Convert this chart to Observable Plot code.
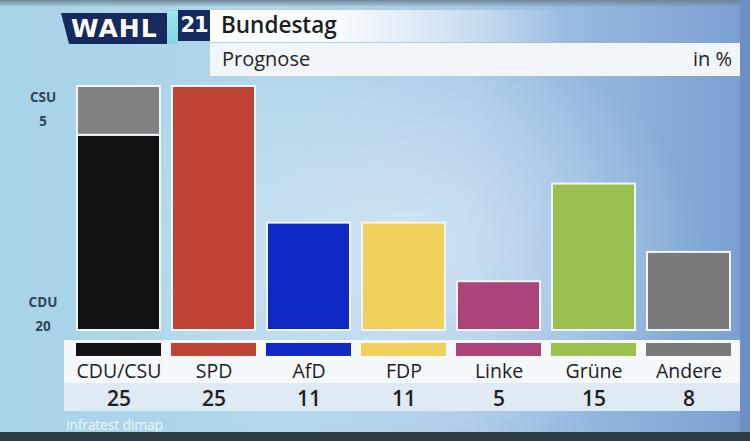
<!DOCTYPE html>
<html>
<head>
<meta charset="utf-8">
<script src="https://cdn.jsdelivr.net/npm/d3@7"></script>
<script src="https://cdn.jsdelivr.net/npm/@observablehq/plot@0.6"></script>
<style>
  html, body { margin: 0; padding: 0; }
  body { width: 750px; height: 441px; overflow: hidden; font-family: "Open Sans", "Noto Sans", sans-serif; }
  #stage {
    position: relative; width: 750px; height: 441px; overflow: hidden;
    background:
      radial-gradient(ellipse 300px 220px at 400px 250px, rgba(222,236,247,0.75), rgba(222,236,247,0) 100%),
      linear-gradient(to right, #a8d4e8 0%, #b0d6ea 35%, #a9c9e8 62%, #88add9 88%, #7aa0d2 100%);
  }
  .abs { position: absolute; }
  #topband { left: 0; top: 0; width: 750px; height: 7px; background: linear-gradient(to bottom, #6f8596, rgba(140,170,195,0)); }
  #rightband { left: 740px; top: 0; width: 10px; height: 441px; background: #6c90c6; }
  #bottomband { left: 0; top: 432px; width: 750px; height: 9px; background: #2d3b43; }
  #wahl { left: 61px; top: 13px; width: 106px; height: 31px; background: #172a5e;
          clip-path: polygon(0 0, 100% 0, 100% 100%, 8px 100%);
          color: #fff; font-family: "DejaVu Sans", sans-serif; font-weight: bold; font-size: 25px;
          line-height: 31px; letter-spacing: 1px; padding-left: 10px; box-sizing: border-box; }
  #cyan { left: 167px; top: 11px; width: 11px; height: 33px; background: linear-gradient(to bottom, #9ae8ea, #7fd8e0); }
  #num { left: 178px; top: 10px; width: 32px; height: 31px; background: #172a5e; color: #fff;
         font-family: "DejaVu Sans", sans-serif; font-weight: bold; font-size: 21px; line-height: 31px; text-align: center; letter-spacing: -1px; }
  #title { left: 210px; top: 10px; width: 360px; height: 32px;
           background: linear-gradient(to right, #ffffff 0%, rgba(255,255,255,0.92) 35%, rgba(255,255,255,0) 100%);
           font-size: 22.5px; font-weight: 600; color: #1e1e1e; line-height: 30px; padding-left: 11px; box-sizing: border-box; }
  #sub { left: 210px; top: 43px; width: 530px; height: 33px; background: #f1f6fb;
         font-size: 20px; color: #222; line-height: 32px; padding: 0 8px 0 12px; box-sizing: border-box;
         display: flex; justify-content: space-between; }
  #panel { left: 64px; top: 340px; width: 676px; height: 43px; background: #f6f9fc; }
  #panel2 { left: 64px; top: 383px; width: 676px; height: 28px; background: #dfeaf4; }
  #caption { left: 66px; top: 415px; font-size: 14px; color: rgba(255,255,255,0.8); letter-spacing: -0.2px; }
  #chart { left: 0; top: 0; }
</style>
</head>
<body>
<div id="stage">
  <div class="abs" id="topband"></div>
  <div class="abs" id="rightband"></div>
  <div class="abs" id="panel"></div>
  <div class="abs" id="panel2"></div>
  <div class="abs" id="wahl">WAHL</div>
  <div class="abs" id="cyan"></div>
  <div class="abs" id="num">21</div>
  <div class="abs" id="title">Bundestag</div>
  <div class="abs" id="sub"><span>Prognose</span><span>in %</span></div>
  <div class="abs" id="chart"></div>
  <div class="abs" id="caption">infratest dimap</div>
  <div class="abs" id="bottomband"></div>
</div>
<script>
// ---- data ----
const parties = ["CDU/CSU", "SPD", "AfD", "FDP", "Linke", "Grüne", "Andere"];
const values = [25, 25, 11, 11, 5, 15, 8];
const partyColors = ["#111111", "#bf4433", "#1029c4", "#f1d15e", "#ad4479", "#9bc04f", "#7a7a7a"];

const unionParts = ["CDU", "CSU"];
const unionValues = [20, 5];
const unionColors = ["#111111", "#828282"];

// ---- tables built from the arrays ----
const partyRows = parties.map((p, i) => ({party: p, value: values[i], color: partyColors[i]}));
const segments = [];
parties.forEach((p, i) => {
  if (p === "CDU/CSU") {
    unionParts.forEach((u, j) => segments.push({party: p, part: u, value: unionValues[j], color: unionColors[j]}));
  } else {
    segments.push({party: p, part: p, value: values[i], color: partyColors[i]});
  }
});
const unionTotal = d3.sum(unionValues);
const unionLabels = [
  {part: unionParts[1], value: unionValues[1], y: unionTotal, anchor: "top"},
  {part: unionParts[0], value: unionValues[0], y: 0, anchor: "bottom"}
];

const chart = Plot.plot({
  width: 750,
  height: 441,
  marginLeft: 68.5,
  marginRight: 11.5,
  marginTop: 86,
  marginBottom: 111,
  x: {domain: parties, axis: null, paddingInner: 0.13, paddingOuter: 0.065},
  y: {domain: [0, 25], axis: null},
  color: {type: "identity"},
  style: {background: "transparent", overflow: "visible", fontFamily: "'Open Sans', sans-serif"},
  marks: [
    Plot.barY(segments, {x: "party", y: "value", fill: "color", stroke: "#eef6fa", strokeWidth: 2}),
    Plot.barY(partyRows, {x: "party", y1: -1.33, y2: -2.66, fill: "color", insetLeft: -1, insetRight: -1}),
    Plot.text(partyRows, {x: "party", text: "party", frameAnchor: "bottom", dy: 47, fontSize: 19.5, fill: "#1e1e1e"}),
    Plot.text(partyRows, {x: "party", text: d => String(d.value), frameAnchor: "bottom", dy: 75, fontSize: 21, fontWeight: 600, fill: "#1e1e1e"}),
    Plot.text(unionLabels.filter(d => d.anchor === "top"), {x: () => "CDU/CSU", y: "y", text: d => d.part + "\n" + d.value,
      dx: -76, dy: -1, lineAnchor: "top", lineHeight: 1.75, fontSize: 13.5, fontWeight: 700, fill: "#2e4758"}),
    Plot.text(unionLabels.filter(d => d.anchor === "bottom"), {x: () => "CDU/CSU", y: "y", text: d => d.part + "\n" + d.value,
      dx: -76, dy: 0, lineAnchor: "bottom", lineHeight: 1.75, fontSize: 13.5, fontWeight: 700, fill: "#2e4758"})
  ]
});
document.getElementById("chart").appendChild(chart);
</script>
</body>
</html>
